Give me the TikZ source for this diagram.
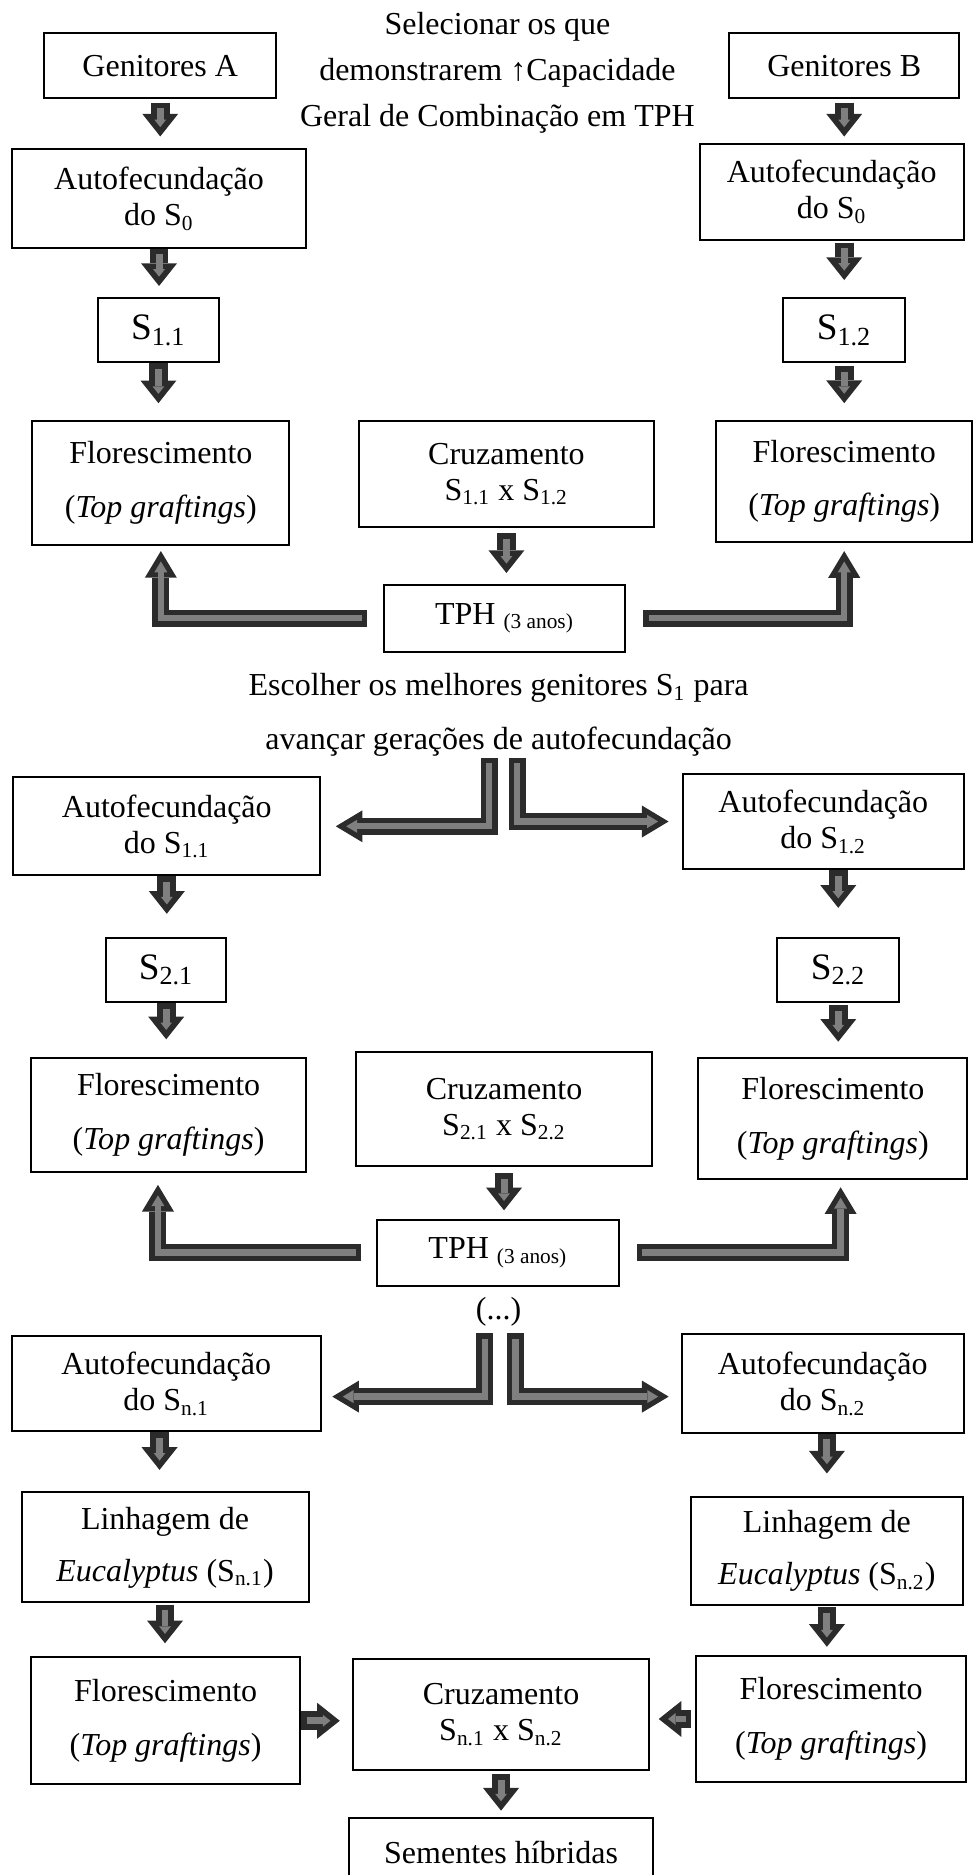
\documentclass[tikz,border=0pt]{standalone}
\usepackage{fontspec}
\setmainfont{Liberation Serif}
\usetikzlibrary{arrows.meta}
\definecolor{escuro}{HTML}{2B2B2B}
\definecolor{cinza}{HTML}{7F7F7F}

\begin{document}
\begin{tikzpicture}[x=0.4483pt,y=-0.4483pt,
      font=\fontsize{12}{13.5}\selectfont,
      texto/.style={align=center},
      caixa/.style={draw,rectangle,line width=0.75pt,inner sep=1pt,align=center},
      sbox/.style={caixa,font=\fontsize{14}{16}\selectfont},
      seta/.style 2 args={draw=escuro,line width=7pt,
        -{Triangle[length=8.5pt,width=13.5pt,line width=0pt]},
        shorten <=#1*0.4483pt,shorten >=#2*0.4483pt,
        postaction={draw=cinza,line width=2.6pt,
          -{Triangle[length=2.8pt,width=4.4pt,line width=0pt]},
          shorten <=#1*0.4483pt+2.2pt,shorten >=#2*0.4483pt+3.5pt}},
      setal/.style 2 args={draw=escuro,line width=6.4pt,
        -{Triangle[length=10pt,width=12pt,line width=0pt]},
        shorten <=#1*0.4483pt,shorten >=#2*0.4483pt,
        postaction={draw=cinza,line width=2.4pt,
          -{Triangle[length=4.1pt,width=4.9pt,line width=0pt]},
          shorten <=#1*0.4483pt+2pt,shorten >=#2*0.4483pt+3.9pt}}]
    \useasboundingbox (0,0) rectangle (819,1568);

    \node[texto](t1) at (416,61){Selecionar os que\\[3.7pt]demonstrarem ↑Capacidade\\[3.7pt]Geral de Combinação em TPH};
    \node[caixa,minimum width=87pt,minimum height=24.2pt](n1) at (134,55){Genitores A};
    \node[caixa,minimum width=86.1pt,minimum height=24.2pt](n2) at (706,55){Genitores B};
    \node[caixa,minimum width=110.3pt,minimum height=36.8pt](n3) at (133,166){Autofecundação\\do S\textsubscript{0}};
    \node[caixa,minimum width=99.1pt,minimum height=36.3pt](n4) at (695.5,160.5){Autofecundação\\do S\textsubscript{0}};
    \node[sbox,minimum width=45.3pt,minimum height=24.2pt](n5) at (132.5,276){S\textsubscript{1.1}};
    \node[sbox,minimum width=45.7pt,minimum height=24.2pt](n6) at (706,276){S\textsubscript{1.2}};
    \node[caixa,minimum width=96.4pt,minimum height=46.6pt](n7) at (134.5,404){Florescimento\\[6.7pt](\textit{Top graftings})};
    \node[caixa,minimum width=110.7pt,minimum height=39.9pt](n8) at (423.5,396.5){Cruzamento\\S\textsubscript{1.1} x S\textsubscript{1.2}};
    \node[caixa,minimum width=95.9pt,minimum height=45.3pt](n9) at (706,402.5){Florescimento\\[6.7pt](\textit{Top graftings})};
    \node[caixa,minimum width=90.6pt,minimum height=25.1pt](n10) at (422,517){TPH \textsubscript{(3 anos)}};
    \draw[seta={3}{10}] (n1.south) -- (n1.south |- n3.north);
    \draw[seta={3}{5}] (n2.south) -- (n2.south |- n4.north);
    \draw[seta={0}{9}] (n3.south) -- (n3.south |- n5.north);
    \draw[seta={1}{14}] (n4.south -| n6) -- (n6.north);
    \draw[seta={0}{14}] (n5.south) -- (n5.south |- n7.north);
    \draw[seta={2}{14}] (n6.south) -- (n6.south |- n9.north);
    \draw[seta={4}{9}] (n8.south) -- (n8.south |- n10.north);
    \draw[setal={13}{4}] (n10.west) -| (n7.south);
    \draw[setal={14}{7}] (n10.east) -| (n9.south);

    \node[texto](t2) at (417,598){Escolher os melhores genitores S\textsubscript{1} para\\[6.7pt]avançar gerações de autofecundação};
    \coordinate (c1) at (409,634);
    \coordinate (c2) at (432.5,634);
    \node[caixa,minimum width=115.2pt,minimum height=36.8pt](n11) at (139.5,691){Autofecundação\\do S\textsubscript{1.1}};
    \node[caixa,minimum width=105.4pt,minimum height=35.9pt](n12) at (688.5,687){Autofecundação\\do S\textsubscript{1.2}};
    \node[sbox,minimum width=44.8pt,minimum height=24.2pt](n13) at (139,811){S\textsubscript{2.1}};
    \node[sbox,minimum width=45.7pt,minimum height=24.2pt](n14) at (701,811){S\textsubscript{2.2}};
    \node[caixa,minimum width=103.1pt,minimum height=42.6pt](n15) at (141,932.5){Florescimento\\[6.7pt](\textit{Top graftings})};
    \node[caixa,minimum width=110.7pt,minimum height=42.6pt](n16) at (421.5,927.5){Cruzamento\\S\textsubscript{2.1} x S\textsubscript{2.2}};
    \node[caixa,minimum width=100.9pt,minimum height=45.3pt](n17) at (696.5,935.5){Florescimento\\[6.7pt](\textit{Top graftings})};
    \node[caixa,minimum width=91pt,minimum height=24.7pt](n18) at (416.5,1047.5){TPH \textsubscript{(3 anos)}};
    \draw[setal={0}{12}] (c1) |- (n11.east);
    \draw[setal={0}{11}] (c2) |- (n12.west);
    \draw[seta={0}{19}] (n11.south) -- (n11.south |- n13.north);
    \draw[seta={0}{24}] (n12.south -| n14) -- (n14.north);
    \draw[seta={0}{15}] (n13.south) -- (n13.south |- n15.north);
    \draw[seta={2}{13}] (n14.south) -- (n14.south |- n17.north);
    \draw[seta={5}{7}] (n16.south) -- (n16.south |- n18.north);
    \draw[setal={12}{10}] (n18.west) -| ([xshift=-4pt]n15.south);
    \draw[setal={14}{6}] (n18.east) -| ([xshift=2.9pt]n17.south);

    \node[texto](t3) at (417,1097){(...)};
    \coordinate (c3) at (405.5,1115);
    \coordinate (c4) at (431,1115);
    \node[caixa,minimum width=115.7pt,minimum height=35.9pt](n19) at (139,1157){Autofecundação\\do S\textsubscript{n.1}};
    \node[caixa,minimum width=105.8pt,minimum height=36.8pt](n20) at (688,1157){Autofecundação\\do S\textsubscript{n.2}};
    \node[caixa,minimum width=107.6pt,minimum height=41.2pt](n21) at (138,1294){Linhagem de\\[6pt]\textit{Eucalyptus} (S\textsubscript{n.1})};
    \node[caixa,minimum width=101.8pt,minimum height=40.3pt](n22) at (691.5,1297){Linhagem de\\[6pt]\textit{Eucalyptus} (S\textsubscript{n.2})};
    \node[caixa,minimum width=100.9pt,minimum height=47.5pt](n23) at (138.5,1439){Florescimento\\[6.7pt](\textit{Top graftings})};
    \node[caixa,minimum width=111.2pt,minimum height=41.7pt](n24) at (419,1433.5){Cruzamento\\S\textsubscript{n.1} x S\textsubscript{n.2}};
    \node[caixa,minimum width=101.3pt,minimum height=47.1pt](n25) at (695,1437.5){Florescimento\\[6.7pt](\textit{Top graftings})};
    \node[caixa,minimum width=113.9pt,minimum height=26pt](n26) at (419,1549){Sementes híbridas};
    \draw[setal={0}{9}] (c3) |- ([yshift=-4.9pt]n19.east);
    \draw[setal={0}{10}] (c4) |- ([yshift=-4.9pt]n20.west);
    \draw[seta={0}{18}] ([xshift=-2.5pt]n19.south) -- ([xshift=-2.5pt]n19.south |- n21.north);
    \draw[seta={0}{19}] (n20.south -| n22) -- (n22.north);
    \draw[seta={1}{11}] (n21.south) -- (n21.south |- n23.north);
    \draw[seta={1}{7}] (n22.south) -- (n22.south |- n25.north);
    \draw[seta={0}{10}] (n23.east) -- (n23.east -| n24.west);
    \draw[seta={3}{7}] (n25.west) -- (n25.west -| n24.east);
    \draw[seta={3}{5}] (n24.south) -- (n24.south |- n26.north);

\end{tikzpicture}
\end{document}
